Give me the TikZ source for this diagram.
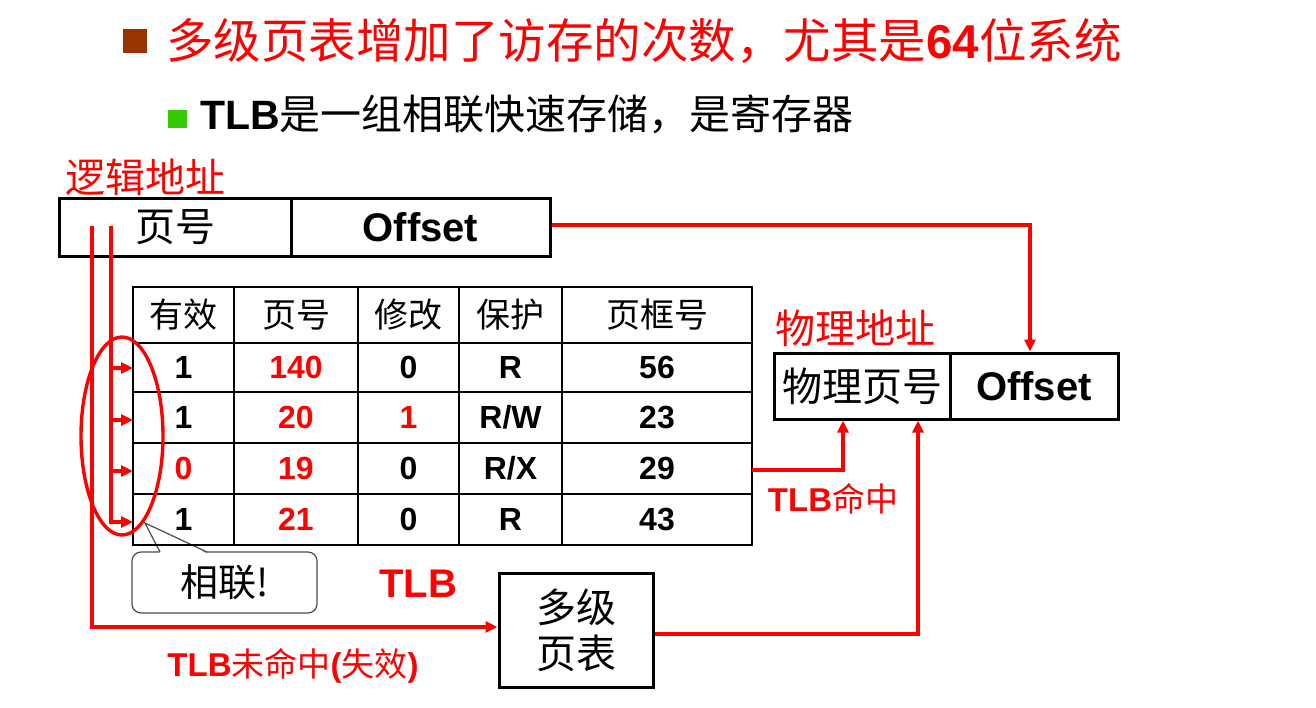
\documentclass[tikz,border=0pt]{standalone}
\usepackage{fontspec}
\setmainfont{Liberation Sans}
\newfontfamily\cjk{Noto Sans CJK SC}
\usetikzlibrary{arrows.meta}
\definecolor{bulletbrown}{RGB}{153,51,0}
\definecolor{bulletgreen}{RGB}{51,204,0}
\newcommand\fs[1]{\fontsize{#1}{#1}\selectfont}

\begin{document}
\begin{tikzpicture}[x=1pt, y=-1pt,
    box/.style={draw, line width=3pt, inner sep=0pt, minimum height=58pt, font=\fs{40}},
    cell/.style={inner sep=0pt, font=\fs{32}\bfseries},
    head/.style={inner sep=0pt, font=\fs{34}\cjk},
    lbl/.style={inner sep=0pt, text=red},
    wire/.style={red, line width=3.4pt},
    tip/.style={-{Triangle[length=12pt,width=11pt]}}]
\useasboundingbox (0,0) rectangle (1316,707);

% bullets
\fill[bulletbrown] (123,29) rectangle (147,53);
\fill[bulletgreen] (168,110) rectangle (187,128);
\node[lbl, anchor=west, font=\fs{47.5}] (title) at (166,41)
  {\cjk 多级页表增加了访存的次数，尤其是{\rmfamily\bfseries 64}位系统};
\node[inner sep=0pt, anchor=west, font=\fs{41}] (sub) at (200,114)
  {\bfseries TLB\mdseries\cjk 是一组相联快速存储，是寄存器};

% logical address
\node[lbl, font=\fs{40}\cjk] (lname) at (145,177) {逻辑地址};
\node[box, minimum width=232pt, font=\fs{40}\cjk] (lpage) at (175,227) {页号};
\node[box, minimum width=259pt, font=\fs{40}\bfseries] (loff) at (420.5,227) {Offset};

% callout
\node[draw=black!70, line width=1.2pt, rounded corners=9pt, minimum width=185pt,
  minimum height=61pt, inner sep=0pt, font=\fs{38}\cjk] (assoc) at (224.5,582.5) {相联!};
\coordinate (ctip) at (145,523);
\fill[white] (160,553.5) -- (ctip) -- (207,553.5) -- cycle;
\draw[black!70, line width=1.2pt] (160,552) -- (ctip) -- (207,552);

% TLB table
\draw[line width=1.6pt] (133,287) rectangle (752,545);
\foreach \x in {234,358,459,562}
  \draw[line width=1.6pt] (\x,287) -- (\x,545);
\foreach \y in {343,392,443,494}
  \draw[line width=1.6pt] (133,\y) -- (752,\y);
\foreach \x/\t [count=\i] in {183.5/有效, 296/页号, 408.5/修改, 510.5/保护, 657/页框号}
  \node[head] (h\i) at (\x,315) {\t};

\node[cell] (v1) at (183.5,367.5) {1};
\node[cell, red] (p1) at (296,367.5) {140};
\node[cell] (m1) at (408.5,367.5) {0};
\node[cell] (r1) at (510.5,367.5) {R};
\node[cell] (f1) at (657,367.5) {56};

\node[cell] (v2) at (183.5,417.5) {1};
\node[cell, red] (p2) at (296,417.5) {20};
\node[cell, red] (m2) at (408.5,417.5) {1};
\node[cell] (r2) at (510.5,417.5) {R/W};
\node[cell] (f2) at (657,417.5) {23};

\node[cell, red] (v3) at (183.5,468.5) {0};
\node[cell, red] (p3) at (296,468.5) {19};
\node[cell] (m3) at (408.5,468.5) {0};
\node[cell] (r3) at (510.5,468.5) {R/X};
\node[cell] (f3) at (657,468.5) {29};

\node[cell] (v4) at (183.5,519.5) {1};
\node[cell, red] (p4) at (296,519.5) {21};
\node[cell] (m4) at (408.5,519.5) {0};
\node[cell] (r4) at (510.5,519.5) {R};
\node[cell] (f4) at (657,519.5) {43};

\node[lbl, font=\fs{40}\bfseries] (tlbname) at (418,584) {TLB};

% page table and physical address
\node[draw, line width=3pt, minimum width=154pt, minimum height=114pt, align=center,
  inner sep=0pt, font=\fontsize{40}{46}\selectfont\cjk] (mlp) at (576,630) {多级\\页表};
\node[lbl, font=\fs{40}\cjk] (pname) at (855,328) {物理地址};
\node[box, minimum width=176pt, minimum height=66pt, font=\fs{40}\cjk] (ppage) at (862,386) {物理页号};
\node[box, minimum width=168pt, minimum height=66pt, font=\fs{40}\bfseries] (poff) at (1034,386) {Offset};

% associative lookup
\coordinate (lbus) at (92,226);
\coordinate (tbus) at (111,226);
\foreach \y [count=\i] in {368,420,471,522}
  \coordinate (in\i) at (133,\y);
\draw[wire, tip] (tbus) |- (in4);
\foreach \i in {1,2,3}
  \draw[wire, tip] (in\i -| tbus) -- (in\i);
\draw[wire] (122,436) ellipse [x radius=41pt, y radius=99pt];

% hit and miss paths
\coordinate (tlbout) at (752,470);
\draw[wire, tip] ([yshift=2pt]loff.east) -| ([xshift=-4pt]poff.north);
\draw[wire, tip] (tlbout) -| ([xshift=-19pt]ppage.south);
\draw[wire, tip] (lbus) |- ([yshift=3pt]mlp.west);
\draw[wire, tip] ([yshift=-4pt]mlp.east) -| ([xshift=56pt]ppage.south);

\node[lbl, font=\fs{33}] (hit) at (833,499) {\bfseries TLB\mdseries\cjk 命中};
\node[lbl, font=\fs{33}] (miss) at (293,666)
  {\bfseries TLB\mdseries\cjk 未命中{\rmfamily\bfseries(}失效{\rmfamily\bfseries)}};
\end{tikzpicture}
\end{document}
